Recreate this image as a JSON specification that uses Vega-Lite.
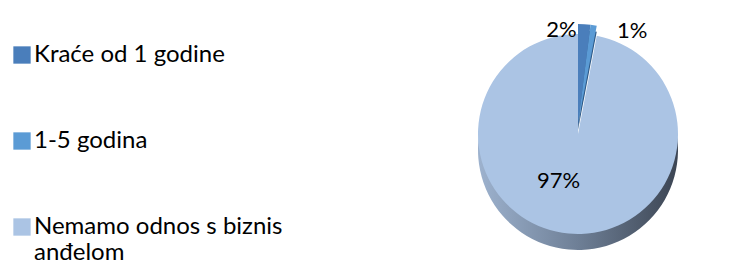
{
  "$schema": "https://vega.github.io/schema/vega-lite/v6.json",
  "width": 308,
  "height": 268,
  "autosize": "none",
  "padding": {"left": 424, "top": 0, "right": 0, "bottom": 0},
  "background": "white",
  "config": {"view": {"stroke": null}, "font": "Lato"},
  "data": {"values": [
    {"category": "Kraće od 1 godine", "value": 2, "order": 1},
    {"category": "1-5 godina", "value": 1, "order": 2},
    {"category": "Nemamo odnos s biznis anđelom", "value": 97, "order": 3}
  ]},
  "transform": [{"calculate": "datum.value + '%'", "as": "pct"}],
  "encoding": {
    "theta": {"field": "value", "type": "quantitative", "stack": true},
    "order": {"field": "order", "type": "quantitative"}
  },
  "layer": [
    {
      "mark": {"type": "arc", "outerRadius": 100, "yOffset": 16,
        "color": {"gradient": "linear", "x1": 0, "y1": 0, "x2": 1, "y2": 0,
          "stops": [{"offset": 0, "color": "#9DB2CE"}, {"offset": 0.5, "color": "#6E7F96"}, {"offset": 1, "color": "#3C4553"}]}},
      "encoding": {
        "opacity": {"condition": {"test": "datum.order == 3", "value": 1}, "value": 0}
      }
    },
    {
      "mark": {"type": "arc", "outerRadius": 100, "yOffset": -4, "color": "#2F5A88"},
      "encoding": {
        "opacity": {"condition": {"test": "datum.order != 3", "value": 1}, "value": 0}
      }
    },
    {
      "mark": {"type": "arc", "outerRadius": 100},
      "encoding": {
        "color": {"field": "category", "type": "nominal",
          "scale": {"domain": ["Kraće od 1 godine", "1-5 godina", "Nemamo odnos s biznis anđelom"], "range": ["#4A7EBB", "#5B9BD5", "#ABC4E4"]},
          "legend": {
            "title": null, "orient": "none", "legendX": -414, "legendY": 43,
            "symbolType": "square", "symbolSize": 300, "symbolStrokeWidth": 0,
            "labelFontSize": 24, "labelFont": "Lato", "labelColor": "#000000",
            "labelOffset": 0, "rowPadding": 62, "padding": 0, "labelLimit": 400,
            "labelExpr": "datum.label == 'Nemamo odnos s biznis anđelom' ? ['Nemamo odnos s biznis', 'anđelom'] : datum.label"
          }},
        "opacity": {"condition": {"test": "datum.order == 3", "value": 1}, "value": 0}
      }
    },
    {
      "mark": {"type": "arc", "outerRadius": 100, "yOffset": -10},
      "encoding": {
        "color": {"field": "category", "type": "nominal"},
        "opacity": {"condition": {"test": "datum.order != 3", "value": 1}, "value": 0}
      }
    },
    {
      "mark": {"type": "text", "radius": 47, "dx": -15, "fontSize": 22, "font": "Lato", "color": "#000000"},
      "encoding": {
        "text": {"condition": {"test": "datum.order == 3", "field": "pct"}, "value": ""}
      }
    },
    {
      "mark": {"type": "text", "radius": 104, "dx": -23, "fontSize": 22, "font": "Lato", "color": "#000000"},
      "encoding": {
        "text": {"condition": {"test": "datum.order == 1", "field": "pct"}, "value": ""}
      }
    },
    {
      "mark": {"type": "text", "radius": 104, "dx": 38, "fontSize": 22, "font": "Lato", "color": "#000000"},
      "encoding": {
        "text": {"condition": {"test": "datum.order == 2", "field": "pct"}, "value": ""}
      }
    }
  ]
}
